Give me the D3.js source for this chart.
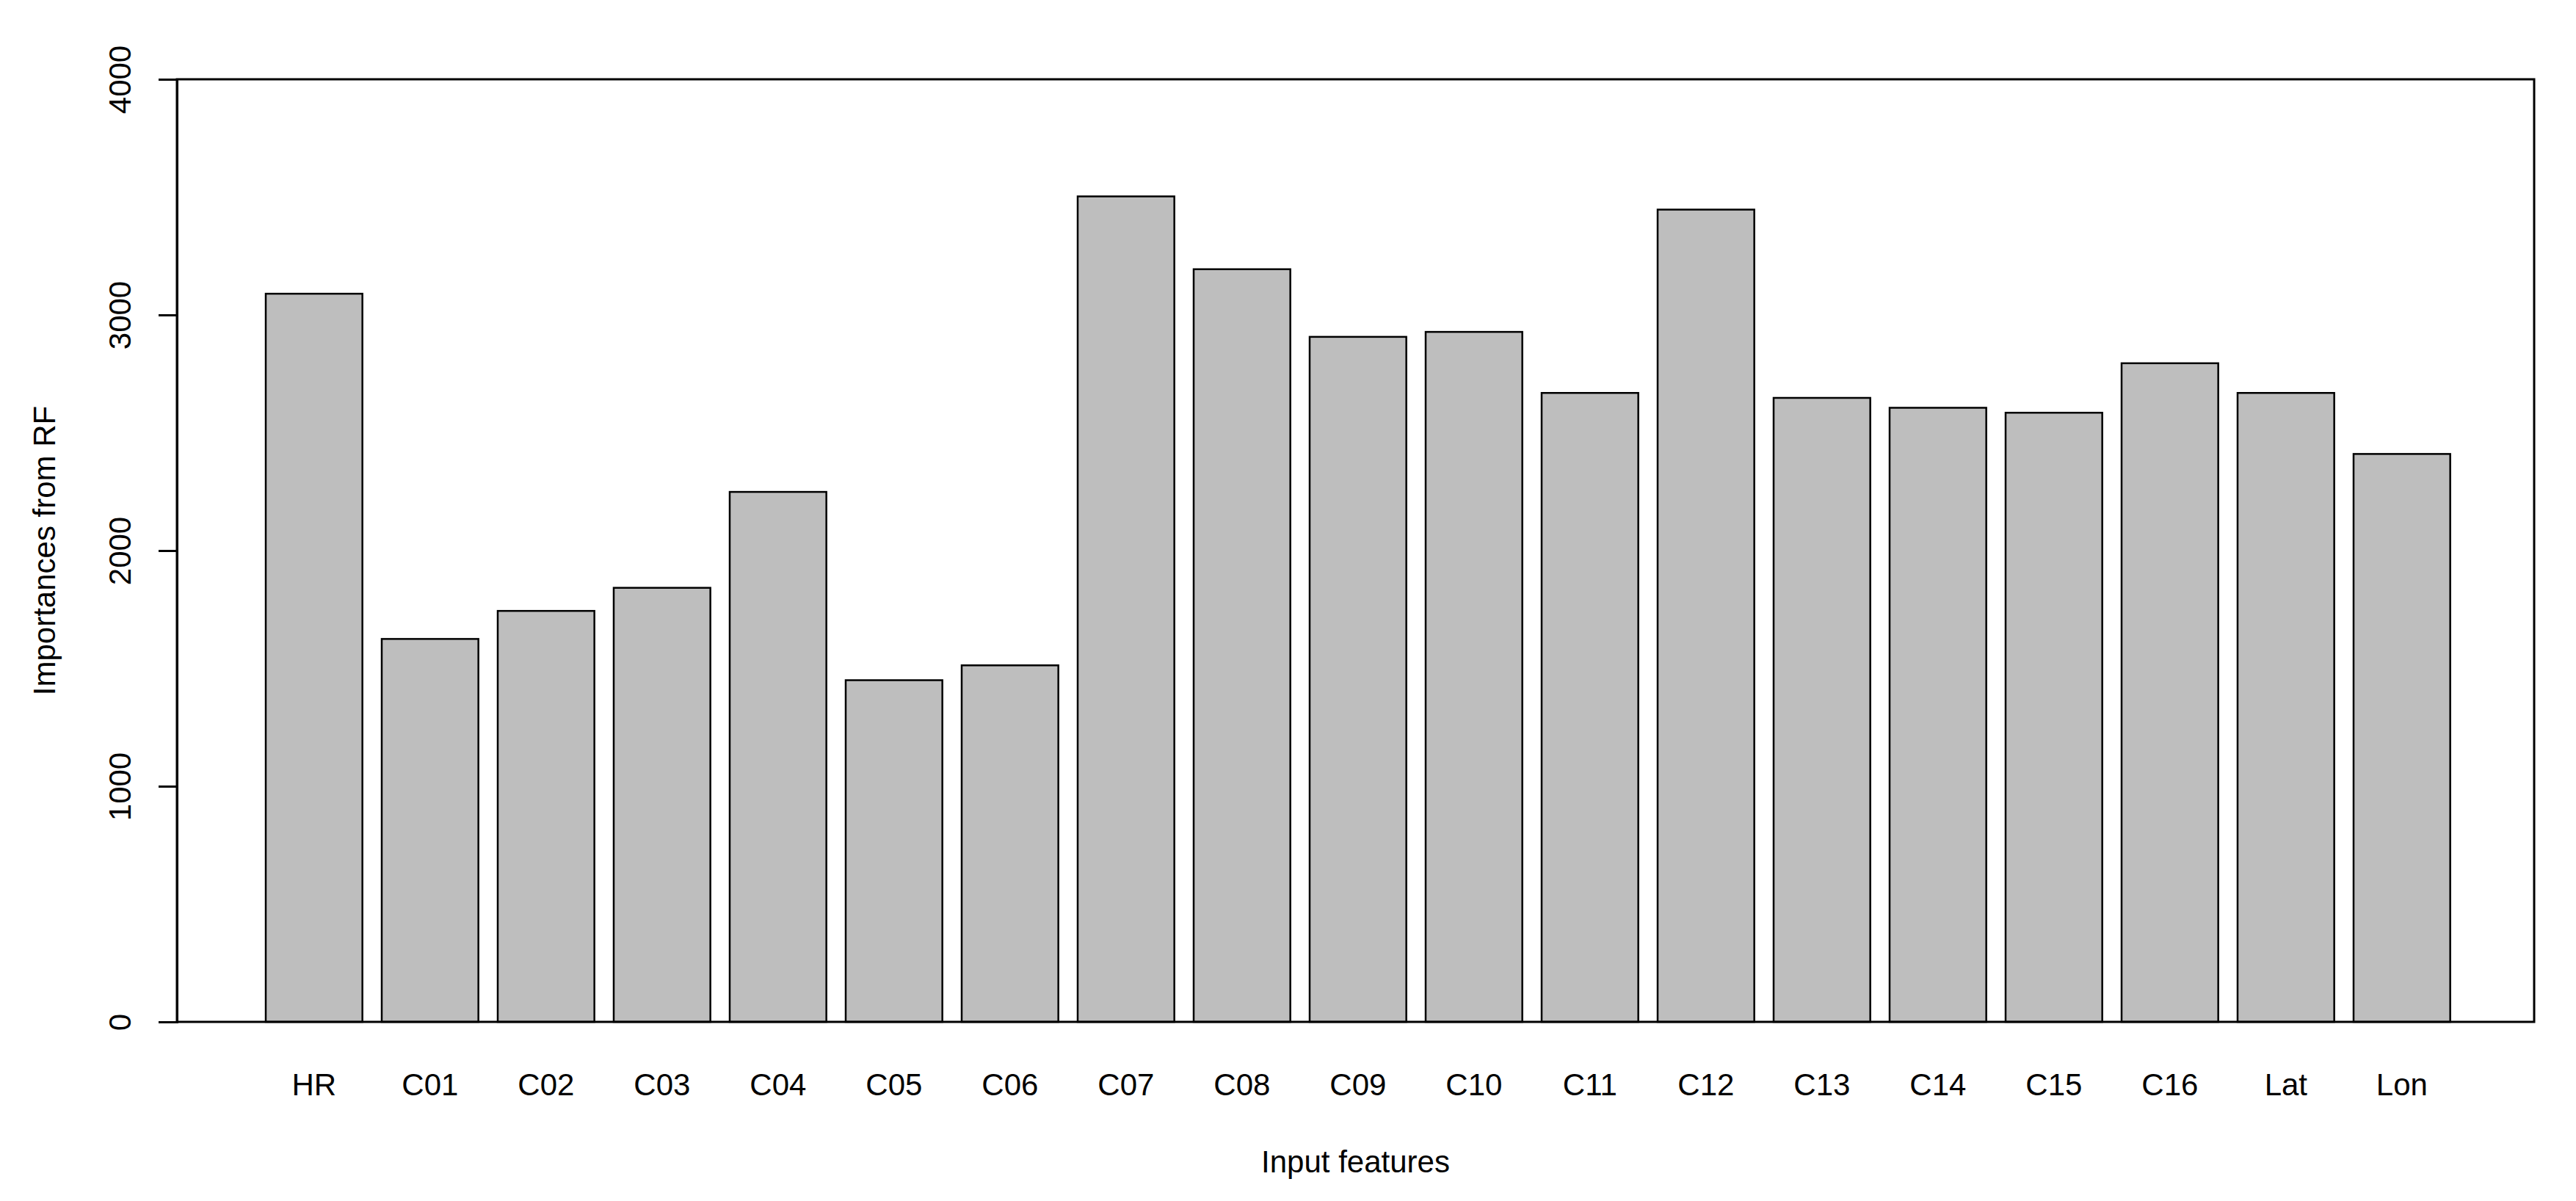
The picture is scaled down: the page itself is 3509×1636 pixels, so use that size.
<!DOCTYPE html>
<html><head><meta charset="utf-8">
<script src="https://cdn.jsdelivr.net/npm/d3@7"></script>
<style>body{margin:0;background:#fff}text{font-family:"Liberation Sans",Arial,sans-serif}</style>
</head><body>
<svg id="c" width="3509" height="1636"></svg>
<script>
const categories=["HR","C01","C02","C03","C04","C05","C06","C07","C08","C09","C10","C11","C12","C13","C14","C15","C16","Lat","Lon"];
const values=[3090,1625,1744,1842,2249,1450,1513,3503,3194,2907,2928,2669,3447,2648,2606,2585,2795,2669,2410];
const yTicks=[0,1000,2000,3000,4000];

const svg=d3.select("#c");
const L=241,R=3452,T=108,B=1392;
// R barplot: bars at 0.2 + i*1.2, width 1; usr from -0.704 to 23.704 approx
const unit=158/1.2;
const x0=362-0.2*unit;
const x=d3.scaleLinear().domain([0,1]).range([x0,x0+unit]);
const y=d3.scaleLinear().domain([0,4000]).range([B,T]);

svg.append("g").selectAll("rect").data(values).join("rect")
 .attr("x",(d,i)=>x(0.2+i*1.2)).attr("width",x(1)-x(0))
 .attr("y",d=>y(d)).attr("height",d=>y(0)-y(d))
 .attr("fill","#bebebe").attr("stroke","#000").attr("stroke-width",2.5);

svg.append("rect").attr("x",L).attr("y",T).attr("width",R-L).attr("height",B-T)
 .attr("fill","none").attr("stroke","#000").attr("stroke-width",3);

const ax=svg.append("g").attr("transform",`translate(${L},0)`)
 .call(d3.axisLeft(y).tickValues(yTicks).tickSize(25).tickPadding(0).tickFormat(d3.format("d")));
ax.select(".domain").attr("stroke-width",3);
ax.selectAll(".tick line").attr("stroke-width",3);
ax.selectAll(".tick text").attr("font-size",42).attr("fill","#000")
 .attr("transform","translate(-63,0) rotate(-90)").attr("text-anchor","middle").attr("x",0).attr("y",0).attr("dy","0");

svg.append("g").selectAll("text").data(categories).join("text")
 .attr("x",(d,i)=>x(0.7+i*1.2)).attr("y",1492).attr("text-anchor","middle")
 .attr("font-size",42).text(d=>d);

svg.append("text").attr("x",(L+R)/2).attr("y",1597).attr("text-anchor","middle")
 .attr("font-size",42).text("Input features");
svg.append("text").attr("transform",`translate(75,${(T+B)/2}) rotate(-90)`).attr("text-anchor","middle")
 .attr("font-size",42).text("Importances from RF");
</script></body></html>
